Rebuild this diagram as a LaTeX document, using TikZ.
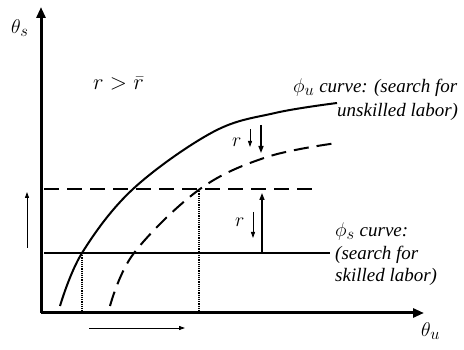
\documentclass[tikz,border=0pt]{standalone}
\usepackage{graphicx}
\usepackage{fontspec}
\setmainfont{Liberation Serif}
\usetikzlibrary{arrows.meta}
\begin{document}
\begin{tikzpicture}[x=1pt,y=-1pt,
  axis/.style={line width=3pt,-{Triangle[length=11pt,width=9pt]}},
  curve/.style={line width=2pt},
  dcurve/.style={line width=2pt,dash pattern=on 15pt off 8pt},
  thinarrow/.style={line width=0.9pt,-{Triangle[length=6pt,width=4pt]}},
  midarrow/.style={line width=1.4pt,-{Triangle[length=7pt,width=5pt]}},
  guide/.style={line width=1.2pt,densely dotted},
  lbl/.style={font=\fontsize{19}{23}\selectfont\itshape,inner sep=0pt,anchor=west,align=left}]
\useasboundingbox (0,0) rectangle (464,350);
% axes
\coordinate (O) at (41,313);
\coordinate (ytop) at (41,7);
\coordinate (xend) at (424,313);
\draw[axis] (O) -- (ytop);
\draw[axis] (O) -- (xend);
\node[lbl] (ths) at (11,28) {\scalebox{1.15}{$\theta_s$}};
\node[lbl] (thu) at (421,331) {\scalebox{1.15}{$\theta_u$}};
\node[lbl] (cond) at (93,84) {\scalebox{1.3}{$r>\bar{r}$}};
% horizontal lines
\coordinate (s1) at (44,253); \coordinate (s2) at (330,253);
\coordinate (d1) at (44,189); \coordinate (d2) at (314,189);
\draw[curve] (s1) -- (s2);
\draw[dcurve] (d1) -- (d2);
% curves
\draw[curve] plot[smooth,tension=0.6] coordinates {(60,306) (82,253) (133,189) (213,132) (275,113) (337,103)};
\draw[dcurve] plot[smooth,tension=0.6] coordinates {(110,306) (134,253) (200,189) (267,157) (337,143)};
% dotted guides
\coordinate (g1t) at (82,253); \coordinate (g1b) at (82,313);
\coordinate (g2t) at (199,189); \coordinate (g2b) at (199,313);
\draw[guide] (g1t) -- (g1b);
\draw[guide] (g2t) -- (g2b);
% arrows near top
\node[lbl] (r1) at (232,142) {\scalebox{1.15}{$r$}};
\coordinate (a1s) at (250,129); \coordinate (a1e) at (250,147);
\draw[thinarrow] (a1s) -- (a1e);
\coordinate (b1s) at (261,125); \coordinate (b1e) at (261,153);
\draw[midarrow] (b1s) -- (b1e);
% arrows between horizontals
\node[lbl] (r2) at (235,222) {\scalebox{1.15}{$r$}};
\coordinate (a2s) at (253,212); \coordinate (a2e) at (253,238);
\draw[thinarrow] (a2s) -- (a2e);
\coordinate (b2s) at (262,253); \coordinate (b2e) at (262,193);
\draw[midarrow] (b2s) -- (b2e);
% side arrows
\coordinate (l1) at (27,248); \coordinate (l2) at (27,192);
\draw[thinarrow] (l1) -- (l2);
\coordinate (h1) at (89,328); \coordinate (h2) at (185,328);
\draw[thinarrow] (h1) -- (h2);
% labels
\node[lbl] (phiu1) at (293,88) {\scalebox{1.15}{$\phi_u$} curve: (search for};
\node[lbl] (phiu2) at (337,112) {unskilled labor)};
\node[lbl] (phis1) at (335,232) {\scalebox{1.15}{$\phi_s$} curve:};
\node[lbl] (phis2) at (335,255) {(search for};
\node[lbl] (phis3) at (335,277) {skilled labor)};
\end{tikzpicture}
\end{document}
